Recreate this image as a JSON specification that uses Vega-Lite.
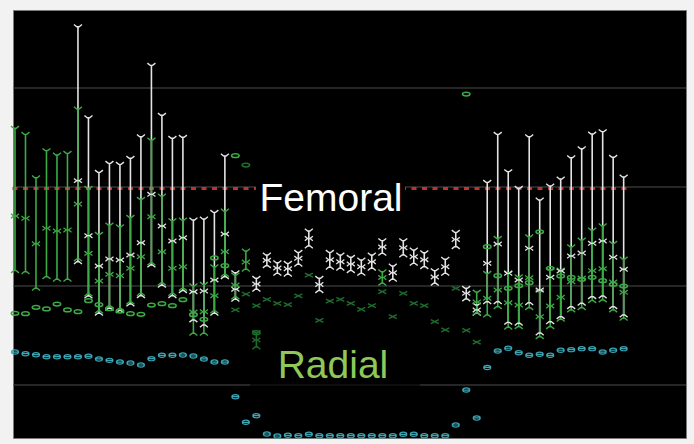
{
  "$schema": "https://vega.github.io/schema/vega-lite/v6.json",
  "width": 673,
  "height": 428,
  "autosize": {"type": "none"},
  "padding": {"left": 13, "top": 10, "right": 8, "bottom": 6},
  "background": "#f2f2f2",
  "config": {"view": {"fill": "#000000", "stroke": "#7a7a7a", "strokeWidth": 1}},
  "datasets": {
    "grid": [{"v": 1}, {"v": 2}, {"v": 3}, {"v": 4}],
    "ref": [{"v": 2.985}],
    "bars": [
      {"k": 6, "g": "F", "lo": 2.245, "mid": 3.064, "hi": 4.619},
      {"k": 7, "g": "F", "lo": 1.899, "mid": 2.508, "hi": 3.700},
      {"k": 8, "g": "F", "lo": 1.724, "mid": 2.202, "hi": 3.148},
      {"k": 9, "g": "F", "lo": 1.775, "mid": 2.273, "hi": 3.239},
      {"k": 10, "g": "F", "lo": 1.751, "mid": 2.263, "hi": 3.229},
      {"k": 11, "g": "F", "lo": 1.818, "mid": 2.313, "hi": 3.290},
      {"k": 12, "g": "F", "lo": 1.902, "mid": 2.437, "hi": 3.508},
      {"k": 13, "g": "F", "lo": 2.212, "mid": 2.926, "hi": 4.229},
      {"k": 14, "g": "F", "lo": 2.007, "mid": 2.606, "hi": 3.724},
      {"k": 15, "g": "F", "lo": 1.902, "mid": 2.455, "hi": 3.492},
      {"k": 16, "g": "F", "lo": 1.953, "mid": 2.488, "hi": 3.502},
      {"k": 17, "g": "F", "lo": 1.657, "mid": 1.942, "hi": 2.667},
      {"k": 18, "g": "F", "lo": 1.606, "mid": 1.949, "hi": 2.677},
      {"k": 19, "g": "F", "lo": 1.724, "mid": 2.061, "hi": 2.744},
      {"k": 20, "g": "F", "lo": 2.094, "mid": 2.525, "hi": 3.313},
      {"k": 21, "g": "F", "lo": 1.866, "mid": 1.967, "hi": 2.134},
      {"k": 23, "g": "F", "lo": 1.967, "mid": 2.020, "hi": 2.078},
      {"k": 24, "g": "F", "lo": 2.205, "mid": 2.260, "hi": 2.313},
      {"k": 25, "g": "F", "lo": 2.128, "mid": 2.182, "hi": 2.235},
      {"k": 26, "g": "F", "lo": 2.118, "mid": 2.174, "hi": 2.229},
      {"k": 27, "g": "F", "lo": 2.219, "mid": 2.280, "hi": 2.340},
      {"k": 28, "g": "F", "lo": 2.404, "mid": 2.480, "hi": 2.556},
      {"k": 29, "g": "F", "lo": 1.953, "mid": 2.015, "hi": 2.078},
      {"k": 30, "g": "F", "lo": 2.189, "mid": 2.265, "hi": 2.340},
      {"k": 31, "g": "F", "lo": 2.179, "mid": 2.245, "hi": 2.313},
      {"k": 32, "g": "F", "lo": 2.155, "mid": 2.222, "hi": 2.290},
      {"k": 33, "g": "F", "lo": 2.128, "mid": 2.195, "hi": 2.263},
      {"k": 34, "g": "F", "lo": 2.179, "mid": 2.245, "hi": 2.313},
      {"k": 35, "g": "F", "lo": 2.330, "mid": 2.394, "hi": 2.458},
      {"k": 36, "g": "F", "lo": 2.068, "mid": 2.134, "hi": 2.202},
      {"k": 37, "g": "F", "lo": 2.313, "mid": 2.386, "hi": 2.458},
      {"k": 38, "g": "F", "lo": 2.229, "mid": 2.296, "hi": 2.364},
      {"k": 39, "g": "F", "lo": 2.195, "mid": 2.266, "hi": 2.336},
      {"k": 40, "g": "F", "lo": 2.027, "mid": 2.091, "hi": 2.155},
      {"k": 41, "g": "F", "lo": 2.128, "mid": 2.195, "hi": 2.270},
      {"k": 42, "g": "F", "lo": 2.397, "mid": 2.470, "hi": 2.542},
      {"k": 43, "g": "F", "lo": 1.869, "mid": 1.926, "hi": 1.977},
      {"k": 44, "g": "F", "lo": 1.724, "mid": 1.758, "hi": 1.808},
      {"k": 45, "g": "F", "lo": 1.841, "mid": 2.229, "hi": 3.047},
      {"k": 46, "g": "F", "lo": 1.841, "mid": 2.424, "hi": 3.532},
      {"k": 47, "g": "F", "lo": 1.633, "mid": 2.128, "hi": 3.155},
      {"k": 48, "g": "F", "lo": 1.623, "mid": 2.061, "hi": 2.987},
      {"k": 49, "g": "F", "lo": 1.831, "mid": 2.381, "hi": 3.508},
      {"k": 50, "g": "F", "lo": 1.525, "mid": 1.960, "hi": 2.869},
      {"k": 51, "g": "F", "lo": 1.639, "mid": 2.088, "hi": 3.010},
      {"k": 52, "g": "F", "lo": 1.690, "mid": 2.152, "hi": 3.081},
      {"k": 53, "g": "F", "lo": 1.791, "mid": 2.303, "hi": 3.296},
      {"k": 54, "g": "F", "lo": 1.825, "mid": 2.333, "hi": 3.387},
      {"k": 55, "g": "F", "lo": 1.892, "mid": 2.431, "hi": 3.535},
      {"k": 56, "g": "F", "lo": 1.899, "mid": 2.455, "hi": 3.559},
      {"k": 57, "g": "F", "lo": 1.791, "mid": 2.290, "hi": 3.300},
      {"k": 58, "g": "F", "lo": 1.707, "mid": 2.169, "hi": 3.101},
      {"k": 0, "g": "R", "lo": 2.155, "mid": 2.707, "hi": 3.593},
      {"k": 1, "g": "R", "lo": 2.144, "mid": 2.684, "hi": 3.532},
      {"k": 2, "g": "R", "lo": 1.977, "mid": 2.427, "hi": 3.094},
      {"k": 3, "g": "R", "lo": 2.094, "mid": 2.583, "hi": 3.367},
      {"k": 4, "g": "R", "lo": 2.068, "mid": 2.556, "hi": 3.323},
      {"k": 5, "g": "R", "lo": 2.068, "mid": 2.566, "hi": 3.340},
      {"k": 6, "g": "R", "lo": 2.273, "mid": 2.828, "hi": 3.788},
      {"k": 7, "g": "R", "lo": 1.919, "mid": 2.330, "hi": 2.987},
      {"k": 8, "g": "R", "lo": 1.747, "mid": 2.051, "hi": 2.522},
      {"k": 9, "g": "R", "lo": 1.798, "mid": 2.118, "hi": 2.616},
      {"k": 10, "g": "R", "lo": 1.773, "mid": 2.104, "hi": 2.599},
      {"k": 11, "g": "R", "lo": 1.838, "mid": 2.179, "hi": 2.694},
      {"k": 12, "g": "R", "lo": 1.924, "mid": 2.296, "hi": 2.876},
      {"k": 13, "g": "R", "lo": 2.232, "mid": 2.700, "hi": 3.475},
      {"k": 14, "g": "R", "lo": 2.030, "mid": 2.346, "hi": 2.909},
      {"k": 15, "g": "R", "lo": 1.924, "mid": 2.179, "hi": 2.660},
      {"k": 16, "g": "R", "lo": 1.975, "mid": 2.195, "hi": 2.667},
      {"k": 17, "g": "R", "lo": 1.522, "mid": 1.737, "hi": 2.003},
      {"k": 18, "g": "R", "lo": 1.522, "mid": 1.740, "hi": 2.017},
      {"k": 19, "g": "R", "lo": 1.747, "mid": 1.902, "hi": 2.195},
      {"k": 20, "g": "R", "lo": 2.116, "mid": 2.346, "hi": 2.758},
      {"k": 21, "g": "R", "lo": 1.889, "mid": 2.010, "hi": 2.111},
      {"k": 22, "g": "R", "lo": 2.169, "mid": 2.242, "hi": 2.354},
      {"k": 35, "g": "R", "lo": 2.027, "mid": 2.086, "hi": 2.144},
      {"k": 44, "g": "R", "lo": 1.727, "mid": 1.838, "hi": 1.939},
      {"k": 45, "g": "R", "lo": 1.707, "mid": 1.876, "hi": 2.128},
      {"k": 46, "g": "R", "lo": 1.791, "mid": 1.960, "hi": 2.482},
      {"k": 47, "g": "R", "lo": 1.583, "mid": 1.831, "hi": 2.134},
      {"k": 48, "g": "R", "lo": 1.589, "mid": 1.808, "hi": 2.094},
      {"k": 49, "g": "R", "lo": 1.781, "mid": 2.084, "hi": 2.498},
      {"k": 50, "g": "R", "lo": 1.488, "mid": 1.690, "hi": 1.942},
      {"k": 51, "g": "R", "lo": 1.589, "mid": 1.798, "hi": 2.162},
      {"k": 52, "g": "R", "lo": 1.664, "mid": 1.886, "hi": 2.162},
      {"k": 53, "g": "R", "lo": 1.758, "mid": 2.043, "hi": 2.397},
      {"k": 54, "g": "R", "lo": 1.781, "mid": 2.081, "hi": 2.465},
      {"k": 55, "g": "R", "lo": 1.852, "mid": 2.155, "hi": 2.566},
      {"k": 56, "g": "R", "lo": 1.859, "mid": 2.175, "hi": 2.609},
      {"k": 57, "g": "R", "lo": 1.758, "mid": 2.040, "hi": 2.431},
      {"k": 58, "g": "R", "lo": 1.674, "mid": 1.936, "hi": 2.273},
      {"k": 23, "g": "D", "lo": 1.384, "mid": 1.455, "hi": 1.528}
    ],
    "circles": [
      {"k": 0, "g": "R", "v": 1.724}, {"k": 1, "g": "R", "v": 1.720}, {"k": 2, "g": "R", "v": 1.785},
      {"k": 3, "g": "R", "v": 1.768}, {"k": 4, "g": "R", "v": 1.818}, {"k": 5, "g": "R", "v": 1.758},
      {"k": 6, "g": "R", "v": 1.740}, {"k": 7, "g": "R", "v": 1.852}, {"k": 8, "g": "R", "v": 1.811},
      {"k": 9, "g": "R", "v": 1.771}, {"k": 10, "g": "R", "v": 1.747}, {"k": 11, "g": "R", "v": 1.720},
      {"k": 12, "g": "R", "v": 1.714}, {"k": 13, "g": "R", "v": 1.808}, {"k": 14, "g": "R", "v": 1.821},
      {"k": 15, "g": "R", "v": 1.801}, {"k": 16, "g": "R", "v": 1.862}, {"k": 17, "g": "R", "v": 1.710},
      {"k": 18, "g": "R", "v": 1.664}, {"k": 19, "g": "R", "v": 2.283}, {"k": 20, "g": "R", "v": 2.205},
      {"k": 21, "g": "R", "v": 3.316}, {"k": 22, "g": "D", "v": 3.222}, {"k": 23, "g": "D", "v": 1.528},
      {"k": 43, "g": "R", "v": 3.939}, {"k": 45, "g": "R", "v": 2.397}, {"k": 46, "g": "R", "v": 2.104},
      {"k": 47, "g": "R", "v": 1.977}, {"k": 48, "g": "R", "v": 2.003}, {"k": 49, "g": "R", "v": 2.033},
      {"k": 50, "g": "R", "v": 2.548}, {"k": 51, "g": "R", "v": 2.179}, {"k": 52, "g": "R", "v": 2.101},
      {"k": 53, "g": "R", "v": 2.088}, {"k": 54, "g": "R", "v": 2.068}, {"k": 55, "g": "R", "v": 2.088},
      {"k": 56, "g": "R", "v": 2.054}, {"k": 57, "g": "R", "v": 2.017}, {"k": 58, "g": "R", "v": 2.000}
    ],
    "crosses": [
      {"k": 21, "v": 1.758}, {"k": 22, "v": 1.919}, {"k": 23, "v": 1.801}, {"k": 24, "v": 1.866},
      {"k": 25, "v": 1.825}, {"k": 26, "v": 1.811}, {"k": 27, "v": 1.899}, {"k": 28, "v": 2.111},
      {"k": 29, "v": 1.654}, {"k": 30, "v": 1.848}, {"k": 31, "v": 1.866}, {"k": 32, "v": 1.825},
      {"k": 33, "v": 1.765}, {"k": 34, "v": 1.801}, {"k": 35, "v": 1.942}, {"k": 36, "v": 1.690},
      {"k": 37, "v": 1.926}, {"k": 38, "v": 1.825}, {"k": 39, "v": 1.801}, {"k": 40, "v": 1.639},
      {"k": 41, "v": 1.556}, {"k": 42, "v": 1.977}, {"k": 43, "v": 1.551}, {"k": 44, "v": 1.434}
    ],
    "cyan": [
      {"k": 0, "v": 1.333}, {"k": 1, "v": 1.316}, {"k": 2, "v": 1.306}, {"k": 3, "v": 1.286},
      {"k": 4, "v": 1.286}, {"k": 5, "v": 1.286}, {"k": 6, "v": 1.286}, {"k": 7, "v": 1.290},
      {"k": 8, "v": 1.263}, {"k": 9, "v": 1.249}, {"k": 10, "v": 1.232}, {"k": 11, "v": 1.222},
      {"k": 12, "v": 1.202}, {"k": 13, "v": 1.266}, {"k": 14, "v": 1.300}, {"k": 15, "v": 1.300},
      {"k": 16, "v": 1.303}, {"k": 17, "v": 1.293}, {"k": 18, "v": 1.263}, {"k": 19, "v": 1.232},
      {"k": 20, "v": 1.232}, {"k": 21, "v": 0.882}, {"k": 22, "v": 0.623}, {"k": 23, "v": 0.690},
      {"k": 24, "v": 0.505}, {"k": 25, "v": 0.485}, {"k": 26, "v": 0.492}, {"k": 27, "v": 0.488},
      {"k": 28, "v": 0.502}, {"k": 29, "v": 0.488}, {"k": 30, "v": 0.488}, {"k": 31, "v": 0.488},
      {"k": 32, "v": 0.488}, {"k": 33, "v": 0.488}, {"k": 34, "v": 0.488}, {"k": 35, "v": 0.488},
      {"k": 36, "v": 0.488}, {"k": 37, "v": 0.502}, {"k": 38, "v": 0.502}, {"k": 39, "v": 0.488},
      {"k": 40, "v": 0.488}, {"k": 41, "v": 0.488}, {"k": 42, "v": 0.596}, {"k": 43, "v": 0.949},
      {"k": 44, "v": 0.667}, {"k": 45, "v": 1.177}, {"k": 46, "v": 1.343}, {"k": 47, "v": 1.371},
      {"k": 48, "v": 1.326}, {"k": 49, "v": 1.300}, {"k": 50, "v": 1.310}, {"k": 51, "v": 1.300},
      {"k": 52, "v": 1.351}, {"k": 53, "v": 1.357}, {"k": 54, "v": 1.367}, {"k": 55, "v": 1.367},
      {"k": 56, "v": 1.333}, {"k": 57, "v": 1.351}, {"k": 58, "v": 1.367}
    ],
    "labels": [{"label": "Femoral"}, {"label": "Radial"}]
  },
  "layer": [
    {
      "data": {"name": "grid"},
      "mark": {"type": "rule", "color": "#4d4d4d", "strokeWidth": 1},
      "encoding": {
        "y": {"field": "v", "type": "quantitative", "scale": {"domain": [0.4646, 4.7879], "nice": false, "zero": false}, "axis": null}
      }
    },
    {
      "data": {"name": "ref"},
      "mark": {"type": "rule", "color": "#c4322c", "strokeWidth": 3, "strokeDash": [5, 5.5]},
      "encoding": {
        "x": {"datum": -0.238, "type": "quantitative", "scale": {"domain": [-0.19, 63.94], "nice": false, "zero": false}, "axis": null},
        "x2": {"datum": 58.3},
        "y": {"field": "v", "type": "quantitative", "axis": null}
      }
    },
    {
      "data": {"values": [{}]},
      "mark": {"type": "rect", "color": "#000000"},
      "encoding": {
        "x": {"datum": 22.96, "type": "quantitative", "axis": null},
        "x2": {"datum": 37.16},
        "y": {"datum": 2.727, "type": "quantitative", "axis": null},
        "y2": {"datum": 3.091}
      }
    },
    {
      "data": {"values": [{}]},
      "mark": {"type": "rect", "color": "#000000", "opacity": 0.6},
      "encoding": {
        "x": {"datum": 22.4, "type": "quantitative", "axis": null},
        "x2": {"datum": 38.6},
        "y": {"datum": 0.99, "type": "quantitative", "axis": null},
        "y2": {"datum": 1.374}
      }
    },
    {
      "data": {"name": "cyan"},
      "mark": {"type": "point", "shape": "M-1,0A1,0.6 0 1,1 1,0A1,0.6 0 1,1 -1,0ZM-1,0L1,0", "size": 49, "filled": false, "strokeWidth": 1.2, "opacity": 1, "color": "#3aa5b5"},
      "encoding": {
        "x": {"field": "k", "type": "quantitative", "axis": null},
        "y": {"field": "v", "type": "quantitative", "axis": null}
      }
    },
    {
      "data": {"name": "crosses"},
      "mark": {"type": "point", "shape": "M-1,-0.5L1,0.5M-1,0.5L1,-0.5", "size": 64, "filled": false, "strokeWidth": 1.4, "opacity": 1, "color": "#1e6e2d"},
      "encoding": {
        "x": {"field": "k", "type": "quantitative", "axis": null},
        "y": {"field": "v", "type": "quantitative", "axis": null}
      }
    },
    {
      "data": {"name": "bars"},
      "mark": {"type": "rule", "strokeWidth": 1.6},
      "encoding": {
        "x": {"field": "k", "type": "quantitative", "axis": null},
        "y": {"field": "lo", "type": "quantitative", "axis": null},
        "y2": {"field": "hi"},
        "color": {"field": "g", "type": "nominal", "scale": {"domain": ["F", "R", "D"], "range": ["#e4e4e4", "#3caa45", "#1f6f2c"]}, "legend": null}
      }
    },
    {
      "data": {"name": "bars"},
      "mark": {"type": "point", "shape": "M-1,-0.55L-0.3,0L0.3,0L1,-0.55", "size": 64, "filled": false, "strokeWidth": 1.4, "opacity": 1},
      "encoding": {
        "x": {"field": "k", "type": "quantitative", "axis": null},
        "y": {"field": "hi", "type": "quantitative", "axis": null},
        "color": {"field": "g", "type": "nominal", "legend": null}
      }
    },
    {
      "data": {"name": "bars"},
      "mark": {"type": "point", "shape": "M-1,0.55L-0.3,0L0.3,0L1,0.55", "size": 64, "filled": false, "strokeWidth": 1.4, "opacity": 1},
      "encoding": {
        "x": {"field": "k", "type": "quantitative", "axis": null},
        "y": {"field": "lo", "type": "quantitative", "axis": null},
        "color": {"field": "g", "type": "nominal", "legend": null}
      }
    },
    {
      "data": {"name": "bars"},
      "mark": {"type": "point", "shape": "M-1,-0.55L-0.3,0L0.3,0L1,-0.55M-1,0.55L-0.3,0L0.3,0L1,0.55", "size": 64, "filled": false, "strokeWidth": 1.3, "opacity": 1},
      "encoding": {
        "x": {"field": "k", "type": "quantitative", "axis": null},
        "y": {"field": "mid", "type": "quantitative", "axis": null},
        "color": {"field": "g", "type": "nominal", "legend": null}
      }
    },
    {
      "data": {"name": "circles"},
      "mark": {"type": "point", "shape": "M-1,0A1,0.5 0 1,1 1,0A1,0.5 0 1,1 -1,0Z", "size": 56, "filled": false, "strokeWidth": 1.5, "opacity": 1},
      "encoding": {
        "x": {"field": "k", "type": "quantitative", "axis": null},
        "y": {"field": "v", "type": "quantitative", "axis": null},
        "color": {"field": "g", "type": "nominal", "legend": null}
      }
    },
    {
      "data": {"name": "labels"},
      "transform": [{"filter": "datum.label == 'Femoral'"}],
      "mark": {"type": "text", "font": "Liberation Sans", "fontSize": 39, "color": "#ffffff", "align": "center", "baseline": "alphabetic"},
      "encoding": {
        "x": {"datum": 30.11, "type": "quantitative", "axis": null},
        "y": {"datum": 2.758, "type": "quantitative", "axis": null},
        "text": {"field": "label"}
      }
    },
    {
      "data": {"name": "labels"},
      "transform": [{"filter": "datum.label == 'Radial'"}],
      "mark": {"type": "text", "font": "Liberation Sans", "fontSize": 39, "color": "#8dc859", "align": "center", "baseline": "alphabetic"},
      "encoding": {
        "x": {"datum": 30.3, "type": "quantitative", "axis": null},
        "y": {"datum": 1.071, "type": "quantitative", "axis": null},
        "text": {"field": "label"}
      }
    }
  ]
}
